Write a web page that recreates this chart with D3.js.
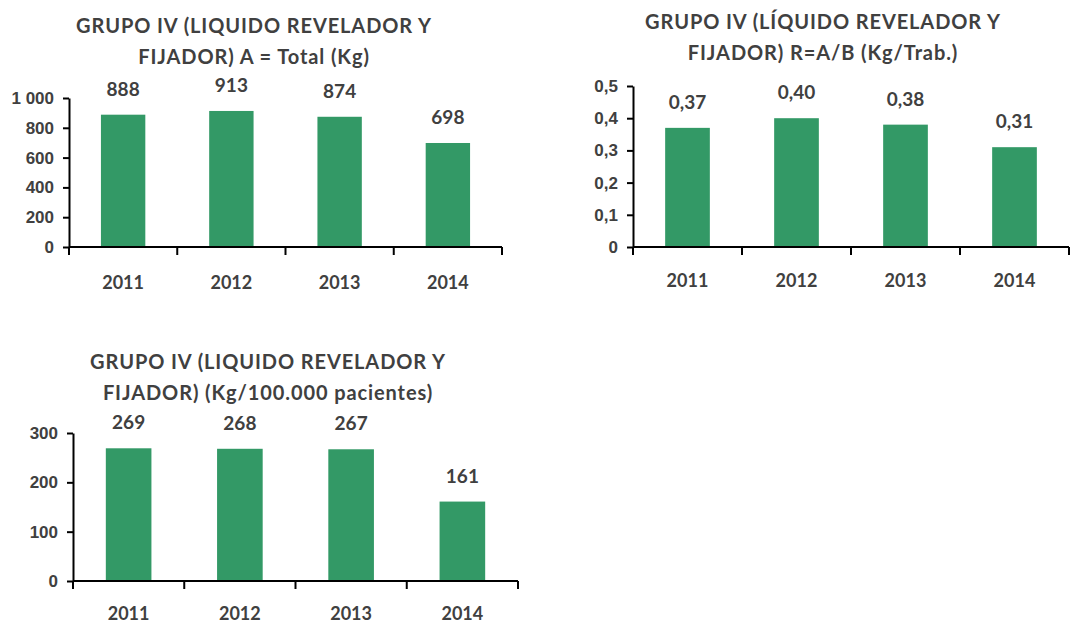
<!DOCTYPE html>
<html>
<head>
<meta charset="utf-8">
<script src="https://cdn.jsdelivr.net/npm/d3@7"></script>
<style>
  body { margin: 0; background: #fff; }
  svg { display: block; font-family: Lato, "Open Sans", sans-serif; }
  .title { font-weight: bold; fill: #404040; }
  .tick text { font-weight: bold; fill: #404040; }
  .val { font-weight: bold; fill: #404040; }
</style>
</head>
<body>
<div id="chart"></div>
<script>
// data
const years = ["2011", "2012", "2013", "2014"];
const totalKg = [888, 913, 874, 698];
const kgPorTrab = [0.37, 0.40, 0.38, 0.31];
const kgPacientes = [269, 268, 267, 161];
const ticksTotal = [0, 200, 400, 600, 800, 1000];
const ticksTrab = [0, 0.1, 0.2, 0.3, 0.4, 0.5];
const ticksPac = [0, 100, 200, 300];

const es = d3.formatLocale({decimal: ",", thousands: " ", grouping: [3], currency: ["", "€"]});

const svg = d3.select("#chart").append("svg")
    .attr("width", 1070)
    .attr("height", 623);

var drawBars = function(opts){
    const g = svg.append("g");

    const x = d3.scaleBand()
        .domain(years)
        .range([opts.left, opts.right])
        .padding(0);

    const y = d3.scaleLinear()
        .domain([0, opts.max])
        .range([opts.bottom, opts.top]);

    // title
    g.append("text")
        .attr("class", "title")
        .attr("text-anchor", "middle")
        .style("font-size", "20px")
        .style("letter-spacing", "0.9px")
        .selectAll("tspan")
        .data(opts.title)
        .enter()
        .append("tspan")
        .attr("x", opts.titleX)
        .attr("y", (d, i) => opts.titleY + i * 31)
        .text(d => d);

    // bars
    const bw = x.bandwidth() * 0.41;
    g.selectAll("rect")
        .data(opts.values)
        .enter()
        .append("rect")
        .attr("x", (d, i) => x(years[i]) + (x.bandwidth() - bw) / 2)
        .attr("y", d => y(d))
        .attr("width", bw)
        .attr("height", d => y(0) - y(d))
        .attr("fill", "#339966");

    // value labels
    g.selectAll("text.val")
        .data(opts.values)
        .enter()
        .append("text")
        .attr("class", "val")
        .attr("text-anchor", "middle")
        .style("font-size", "19px")
        .attr("x", (d, i) => x(years[i]) + x.bandwidth() / 2)
        .attr("y", d => y(d) - 19)
        .text(d => opts.valFormat(d));

    // y axis
    const yAxis = g.append("g")
        .attr("transform", `translate(${opts.left},0)`)
        .call(d3.axisLeft(y).tickValues(opts.ticks).tickFormat(opts.tickFormat).tickSize(6).tickSizeOuter(0).tickPadding(9));
    yAxis.selectAll(".tick text").style("font-size", "17px");

    // x axis
    const xAxis = g.append("g")
        .attr("transform", `translate(0,${opts.bottom})`);
    xAxis.append("line")
        .attr("x1", opts.left)
        .attr("x2", opts.right)
        .attr("stroke", "#000")
        .attr("stroke-width", 2);
    xAxis.selectAll("line.sep")
        .data(years.concat(["end"]))
        .enter()
        .append("line")
        .attr("class", "sep")
        .attr("x1", (d, i) => i < years.length ? x(d) : opts.right)
        .attr("x2", (d, i) => i < years.length ? x(d) : opts.right)
        .attr("y1", 0)
        .attr("y2", 8)
        .attr("stroke", "#000")
        .attr("stroke-width", 2);
    xAxis.selectAll("text")
        .data(years)
        .enter()
        .append("text")
        .attr("class", "val")
        .attr("text-anchor", "middle")
        .style("font-size", "18px")
        .attr("x", d => x(d) + x.bandwidth() / 2)
        .attr("y", opts.yearY - opts.bottom)
        .text(d => d);

    yAxis.select(".domain").attr("stroke", "#000").attr("stroke-width", 2);
    yAxis.selectAll(".tick line").attr("stroke", "#000").attr("stroke-width", 2);
}

drawBars({
    title: ["GRUPO IV (LIQUIDO REVELADOR Y", "FIJADOR) A = Total (Kg)"],
    titleX: 254, titleY: 33,
    left: 69, right: 502, top: 98, bottom: 247, max: 1000,
    ticks: ticksTotal, tickFormat: es.format(",d"),
    values: totalKg, valFormat: es.format("d"),
    yearY: 289
});

drawBars({
    title: ["GRUPO IV (LÍQUIDO REVELADOR Y", "FIJADOR) R=A/B (Kg/Trab.)"],
    titleX: 823, titleY: 29,
    left: 633, right: 1069, top: 86, bottom: 247, max: 0.5,
    ticks: ticksTrab, tickFormat: es.format(".1~f"),
    values: kgPorTrab, valFormat: es.format(".2f"),
    yearY: 287
});

drawBars({
    title: ["GRUPO IV (LIQUIDO REVELADOR Y", "FIJADOR) (Kg/100.000 pacientes)"],
    titleX: 268, titleY: 369,
    left: 73, right: 518, top: 433, bottom: 581, max: 300,
    ticks: ticksPac, tickFormat: es.format("d"),
    values: kgPacientes, valFormat: es.format("d"),
    yearY: 620
});
</script>
</body>
</html>
